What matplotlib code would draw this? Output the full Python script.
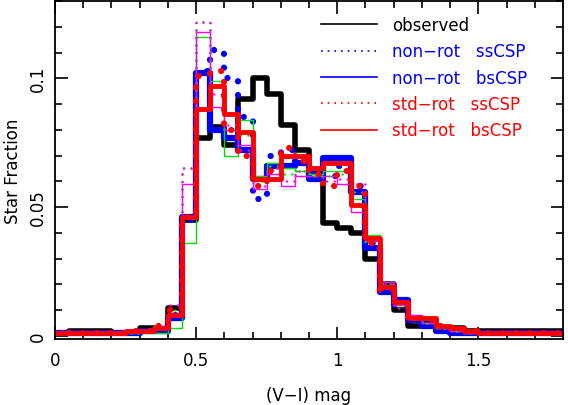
import numpy as np
import matplotlib
matplotlib.use("Agg")
import matplotlib.pyplot as plt
from matplotlib.lines import Line2D
from matplotlib.ticker import MultipleLocator

# bin edges of the (V-I) histograms, 0.05 mag wide
edges = np.round(np.arange(0.0, 1.8001, 0.05), 3)

observed = [0.001, 0.002, 0.002, 0.002, 0.001, 0.001, 0.003, 0.002, 0.011, 0.045,
            0.077, 0.081, 0.074, 0.092, 0.100, 0.094, 0.082, 0.072, 0.064, 0.044,
            0.042, 0.040, 0.030, 0.020, 0.010, 0.004, 0.005, 0.003, 0.003, 0.002,
            0.002, 0.002, 0.002, 0.002, 0.002, 0.002]
nonrot_ss = [0.001, 0.001, 0.001, 0.001, 0.001, 0.001, 0.002, 0.002, 0.008, 0.045,
             0.103, 0.111, 0.100, 0.085, 0.053, 0.070, 0.072, 0.068, 0.064, 0.062,
             0.066, 0.058, 0.036, 0.019, 0.012, 0.006, 0.005, 0.003, 0.002, 0.001,
             0.001, 0.001, 0.001, 0.001, 0.001, 0.001]
nonrot_bs = [0.001, 0.001, 0.001, 0.001, 0.001, 0.001, 0.002, 0.002, 0.007, 0.046,
             0.102, 0.080, 0.077, 0.072, 0.061, 0.066, 0.066, 0.067, 0.061, 0.069,
             0.069, 0.056, 0.034, 0.017, 0.014, 0.006, 0.004, 0.002, 0.001, 0.001,
             0.001, 0.001, 0.001, 0.001, 0.001, 0.001]
stdrot_ss = [0.001, 0.001, 0.001, 0.001, 0.001, 0.002, 0.002, 0.004, 0.010, 0.046,
             0.101, 0.103, 0.080, 0.070, 0.058, 0.064, 0.073, 0.068, 0.063, 0.058,
             0.064, 0.058, 0.036, 0.018, 0.013, 0.007, 0.006, 0.004, 0.003, 0.002,
             0.001, 0.001, 0.001, 0.001, 0.001, 0.001]
stdrot_bs = [0.001, 0.001, 0.001, 0.001, 0.001, 0.002, 0.002, 0.003, 0.008, 0.046,
             0.088, 0.097, 0.086, 0.079, 0.061, 0.061, 0.070, 0.070, 0.065, 0.067,
             0.067, 0.051, 0.038, 0.019, 0.013, 0.007, 0.007, 0.004, 0.003, 0.002,
             0.001, 0.001, 0.001, 0.001, 0.001, 0.001]
# extra thin histograms (not in the legend)
mag_ss = [0.001, 0.001, 0.001, 0.001, 0.001, 0.002, 0.002, 0.004, 0.012, 0.065,
          0.122, 0.094, 0.082, 0.072, 0.058, 0.065, 0.060, 0.064, 0.062, 0.060,
          0.061, 0.059, 0.038, 0.020, 0.011, 0.007, 0.005, 0.003, 0.002, 0.001,
          0.001, 0.001, 0.001, 0.001, 0.001, 0.001]
mag_bs = [0.001, 0.001, 0.001, 0.001, 0.001, 0.002, 0.002, 0.004, 0.009, 0.059,
          0.118, 0.089, 0.080, 0.074, 0.057, 0.063, 0.058, 0.062, 0.062, 0.062,
          0.059, 0.048, 0.037, 0.021, 0.012, 0.008, 0.005, 0.003, 0.002, 0.001,
          0.001, 0.001, 0.001, 0.001, 0.001, 0.001]
grn_ss = [0.001, 0.001, 0.001, 0.001, 0.001, 0.001, 0.002, 0.003, 0.010, 0.065,
          0.122, 0.097, 0.080, 0.078, 0.060, 0.066, 0.063, 0.064, 0.062, 0.062,
          0.063, 0.056, 0.036, 0.020, 0.012, 0.007, 0.005, 0.003, 0.002, 0.001,
          0.001, 0.001, 0.001, 0.001, 0.001, 0.001]
grn_bs = [0.001, 0.001, 0.001, 0.001, 0.001, 0.001, 0.001, 0.001, 0.003, 0.036,
          0.116, 0.099, 0.070, 0.084, 0.062, 0.067, 0.065, 0.064, 0.063, 0.064,
          0.064, 0.053, 0.039, 0.021, 0.012, 0.007, 0.005, 0.003, 0.002, 0.001,
          0.001, 0.001, 0.001, 0.001, 0.001, 0.001]

labels = ["observed", "non\u2212rot   ssCSP", "non\u2212rot   bsCSP",
          "std\u2212rot   ssCSP", "std\u2212rot   bsCSP"]
label_colors = ["black", "blue", "blue", "red", "red"]

plt.rcParams["font.family"] = ["DejaVu Sans"]
plt.rcParams["font.size"] = 12

fig = plt.figure(figsize=(5.68, 4.06), dpi=100)
ax = fig.add_axes([55 / 568, 1 - 340 / 406, 508 / 568, 338 / 406])


def hist(vals, **kw):
    v = np.append(vals, vals[-1])
    ax.step(edges, v, where="post", solid_capstyle="round",
            dash_capstyle="round", **kw)


dots_big = (0, (0.01, 2.2))
dots_small = (0, (0.01, 3.0))

hist(observed, color="black", lw=4.0, solid_joinstyle="round")
hist(nonrot_bs, color="blue", lw=4.5)
hist(nonrot_ss, color="blue", lw=4.5, ls=dots_big)
hist(grn_bs, color="#00e000", lw=1.0)
hist(mag_bs, color="magenta", lw=1.0)
hist(grn_ss, color="#00e000", lw=1.8, ls=dots_small)
hist(mag_ss, color="magenta", lw=1.8, ls=dots_small)
hist(stdrot_ss, color="red", lw=4.5, ls=dots_big)
hist(stdrot_bs, color="red", lw=3.5)

ax.set_xlim(0, 1.8)
ax.set_ylim(-0.0012, 0.13)
ax.xaxis.set_major_locator(MultipleLocator(0.5))
ax.xaxis.set_minor_locator(MultipleLocator(0.1))
ax.yaxis.set_major_locator(MultipleLocator(0.05))
ax.yaxis.set_minor_locator(MultipleLocator(0.01))
ax.xaxis.set_major_formatter(plt.FuncFormatter(lambda v, p: f"{v:g}"))
ax.yaxis.set_major_formatter(plt.FuncFormatter(lambda v, p: f"{v:g}"))
ax.tick_params(which="both", direction="in", top=True, right=True, width=1.2)
ax.tick_params(which="major", length=9)
ax.tick_params(which="minor", length=5)
ax.tick_params(axis="x", pad=9)
ax.tick_params(axis="y", labelrotation=90, pad=6)
for t in ax.get_yticklabels():
    t.set_va("center")
for s in ax.spines.values():
    s.set_linewidth(1.3)

ax.set_xlabel("(V\u2212I) mag", labelpad=12)
ax.set_ylabel("Star Fraction", labelpad=5)

handles = [Line2D([], [], color="black", lw=1.2),
           Line2D([], [], color="blue", lw=1.2, ls=(0, (1, 3))),
           Line2D([], [], color="blue", lw=1.2),
           Line2D([], [], color="red", lw=1.2, ls=(0, (1, 3))),
           Line2D([], [], color="red", lw=1.2)]
leg = ax.legend(handles, labels, loc="upper left", bbox_to_anchor=(0.5, 0.99),
                frameon=False, handlelength=3.4, handletextpad=0.9,
                labelspacing=0.5, borderaxespad=0.3)
for t, c in zip(leg.get_texts(), label_colors):
    t.set_color(c)

fig.savefig("out.png", dpi=100)
